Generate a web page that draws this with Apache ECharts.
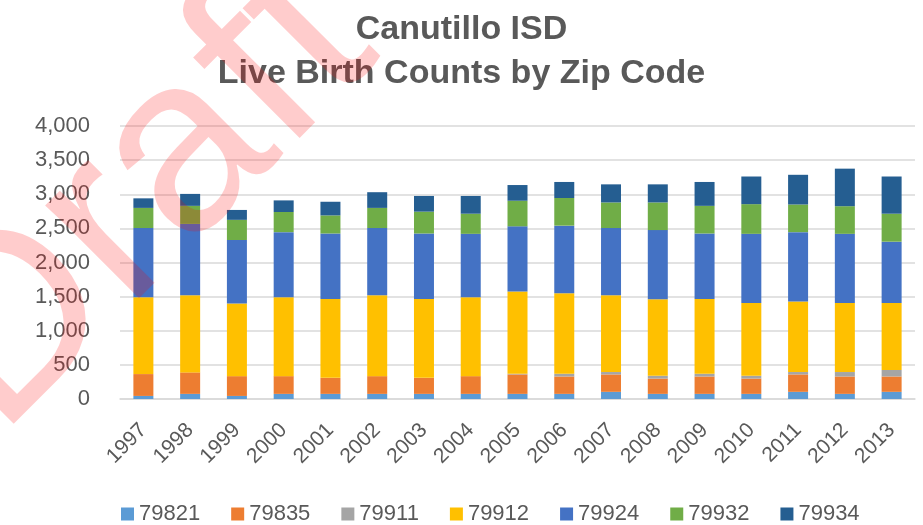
<!DOCTYPE html>
<html><head><meta charset="utf-8">
<script src="https://cdn.jsdelivr.net/npm/echarts@6/dist/echarts.min.js"></script>
<style>html,body{margin:0;padding:0;background:#fff}#c{width:923px;height:525px}</style>
</head><body><div id="c"></div>
<script>
var years = ['1997','1998','1999','2000','2001','2002','2003','2004','2005','2006','2007','2008','2009','2010','2011','2012','2013'];
var zipCodes = ['79821','79835','79911','79912','79924','79932','79934'];
var z79821 = [45,75,45,75,75,75,75,75,75,75,105,75,75,75,105,75,105];
var z79835 = [320,315,290,260,235,260,235,260,285,255,255,225,255,225,255,255,225];
var z79911 = [0,0,0,0,0,0,0,0,10,40,35,40,40,40,35,65,95];
var z79912 = [1125,1130,1065,1155,1155,1185,1155,1155,1205,1180,1125,1120,1095,1065,1035,1010,980];
var z79924 = [1015,1045,930,955,960,985,960,930,955,990,985,1015,960,1015,1015,1015,900];
var z79932 = [295,265,295,295,265,295,320,295,375,405,375,405,405,435,405,405,410];
var z79934 = [140,175,145,170,200,230,230,260,230,235,265,265,350,405,435,550,545];
var seriesData = [z79821,z79835,z79911,z79912,z79924,z79932,z79934];
var colors = ['#5B9BD5','#ED7D31','#A5A5A5','#FFC000','#4472C4','#70AD47','#255E91'];
var titleLines = ['Canutillo ISD','Live Birth Counts by Zip Code'];
var yTicks = {min:0, max:4000, interval:500};
var watermark = 'Draft';

var FONT = "'Liberation Sans', Arial, sans-serif";
var chart = echarts.init(document.getElementById('c'), null, {renderer:'canvas'});
chart.setOption({
  animation:false,
  color: colors,
  title: {
    text: titleLines.join('\n'), left:'center', top:3,
    textStyle:{fontFamily:FONT, fontWeight:'bold', fontSize:34, lineHeight:44, color:'#595959'}
  },
  legend: {
    top:498, left:116, itemWidth:13, itemHeight:13, itemGap:31, icon:'rect',
    textStyle:{fontFamily:FONT, fontSize:22, color:'#595959'},
    data: zipCodes
  },
  grid: {left:120, right:8, top:126, bottom:126, containLabel:false},
  xAxis: {
    type:'category', data: years,
    axisLine:{show:true, lineStyle:{color:'#D9D9D9', width:1.5}},
    axisTick:{show:false},
    axisLabel:{rotate:45, margin:28, fontFamily:FONT, fontSize:21, color:'#595959', interval:0}
  },
  yAxis: {
    type:'value', min:yTicks.min, max:yTicks.max, interval:yTicks.interval,
    axisLine:{show:false}, axisTick:{show:false},
    splitLine:{lineStyle:{color:'#D9D9D9', width:1.5}},
    axisLabel:{margin:30, fontFamily:FONT, fontSize:22, color:'#595959',
      formatter:function(v){return v.toLocaleString('en-US');}}
  },
  series: zipCodes.map(function(name,i){
    return {name:name, type:'bar', stack:'total', barWidth:20, data:seriesData[i],
      itemStyle:{color:colors[i]}};
  }),
  graphic: [{
    type:'text', x:142, y:198, rotation:Math.PI/4, z:100, silent:true,
    style:{text:watermark, fontFamily:FONT, fontSize:250, fill:'rgba(255,0,0,0.2)',
      textAlign:'center', textVerticalAlign:'middle'}
  }]
});
</script></body></html>
